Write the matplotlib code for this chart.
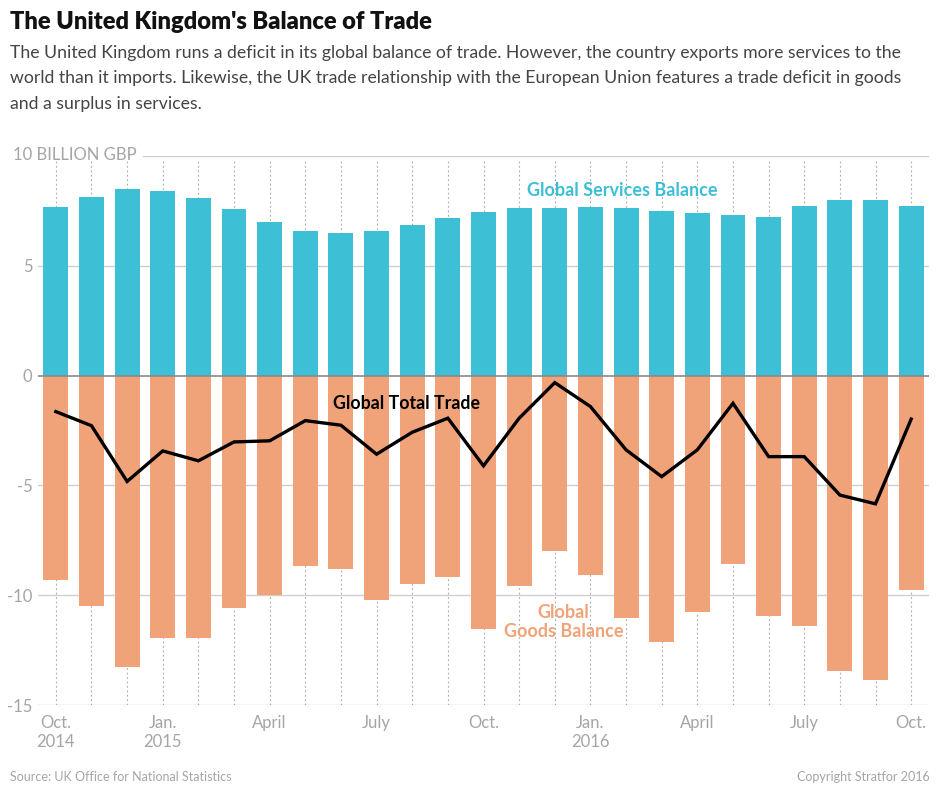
import matplotlib
matplotlib.use('Agg')
import matplotlib.pyplot as plt
import numpy as np

months = ['Oct. 2014', 'Nov. 2014', 'Dec. 2014', 'Jan. 2015', 'Feb. 2015', 'Mar. 2015',
          'Apr. 2015', 'May 2015', 'Jun. 2015', 'Jul. 2015', 'Aug. 2015', 'Sep. 2015',
          'Oct. 2015', 'Nov. 2015', 'Dec. 2015', 'Jan. 2016', 'Feb. 2016', 'Mar. 2016',
          'Apr. 2016', 'May 2016', 'Jun. 2016', 'Jul. 2016', 'Aug. 2016', 'Sep. 2016',
          'Oct. 2016']
tick_labels = ['Oct.\n2014', '', '', 'Jan.\n2015', '', '', 'April', '', '', 'July', '', '',
               'Oct.', '', '', 'Jan.\n2016', '', '', 'April', '', '', 'July', '', '', 'Oct.']
services = [7.66, 8.15, 8.48, 8.42, 8.10, 7.57, 6.98, 6.60, 6.48, 6.60, 6.86, 7.19,
            7.46, 7.62, 7.62, 7.68, 7.62, 7.51, 7.42, 7.30, 7.24, 7.72, 8.00, 8.00, 7.72]
goods = [-9.33, -10.51, -13.29, -11.95, -11.95, -10.60, -9.98, -8.69, -8.80, -10.20,
         -9.48, -9.16, -11.56, -9.59, -7.98, -9.10, -11.04, -12.12, -10.77, -8.56,
         -10.94, -11.42, -13.46, -13.84, -9.75]
total = [-1.64, -2.28, -4.82, -3.43, -3.88, -3.02, -2.97, -2.05, -2.26, -3.58, -2.58,
         -1.94, -4.11, -1.94, -0.32, -1.41, -3.38, -4.60, -3.38, -1.26, -3.69, -3.69,
         -5.44, -5.84, -1.98]
y_ticks = [-15, -10, -5, 0, 5]
y_tick_labels = ['-15', '-10', '-5', '0', '5']

FONT = 'Lato'
plt.rcParams['font.family'] = [FONT, 'DejaVu Sans']

W, H = 940, 792
fig = plt.figure(figsize=(W / 100, H / 100), dpi=100)
ax_l, ax_r, ax_t, ax_b = 38, 929, 156, 705
ax = fig.add_axes([ax_l / W, 1 - ax_b / H, (ax_r - ax_l) / W, (ax_b - ax_t) / H])

x = np.arange(len(months))
ax.bar(x, services, width=0.7, color='#3dbfd6', zorder=3)
ax.bar(x, goods, width=0.7, color='#f0a378', zorder=3)
ax.plot(x, total, color='black', lw=2.4, zorder=5, solid_joinstyle='miter')

ax.set_xlim(-0.5, len(months) - 0.5)
ax.set_ylim(-15, 10)
for s in ax.spines.values():
    s.set_visible(False)

for yv in [-15, -10, -5, 5]:
    ax.axhline(yv, color='#cfcfcf', lw=1.0, zorder=1)
ax.axhline(10, xmin=(143 - ax_l) / (ax_r - ax_l), color='#cfcfcf', lw=1.0, zorder=1)
ax.axhline(0, color='#8a8a8a', lw=1.2, zorder=4)
ax.vlines(x, -15, 9.8, colors='#a8a8a8', linestyles=(0, (1.5, 2.5)), lw=0.8, zorder=2)

tick_color = '#a5a5a5'
ax.set_yticks(y_ticks)
ax.set_yticklabels(y_tick_labels, color=tick_color, fontsize=12, fontweight='normal')
ax.set_xticks(x)
ax.set_xticklabels(tick_labels, color=tick_color, fontsize=12, fontweight='normal',
                   linespacing=1.25, va='top')
ax.tick_params(axis='both', length=0)
ax.tick_params(axis='y', pad=4)
ax.tick_params(axis='x', pad=7)

fig.text(13 / W, 1 - 155 / H, '10 BILLION GBP', color=tick_color, fontsize=12,
         fontweight='normal', va='center', ha='left')

ax.text(15.9, 8.45, 'Global Services Balance', color='#3dbfd6', fontsize=13,
        fontweight='bold', ha='center', va='center', zorder=6)
ax.text(9.85, -1.29, 'Global Total Trade', color='black', fontsize=12.8,
        fontweight='bold', ha='center', va='center', zorder=6)
ax.text(14.24, -11.2, 'Global\nGoods Balance', color='#f0a378', fontsize=13,
        fontweight='bold', ha='center', va='center', zorder=6, linespacing=1.15)

fig.text(10 / W, 1 - 22 / H, "The United Kingdom's Balance of Trade", fontsize=17,
         fontweight='heavy', color='#111111', ha='left', va='center')
fig.text(10 / W, 1 - 45 / H,
         "The United Kingdom runs a deficit in its global balance of trade. However, the country exports more services to the\n"
         "world than it imports. Likewise, the UK trade relationship with the European Union features a trade deficit in goods\n"
         "and a surplus in services.",
         fontsize=12.7, color='#444444', ha='left', va='top', linespacing=1.72)

fig.text(10 / W, 1 - 777 / H, 'Source: UK Office for National Statistics', fontsize=9,
         color='#a5a5a5', ha='left', va='center', fontweight='normal')
fig.text(930 / W, 1 - 777 / H, 'Copyright Stratfor 2016', fontsize=9,
         color='#a5a5a5', ha='right', va='center', fontweight='normal')

fig.savefig('out.png', dpi=100)
